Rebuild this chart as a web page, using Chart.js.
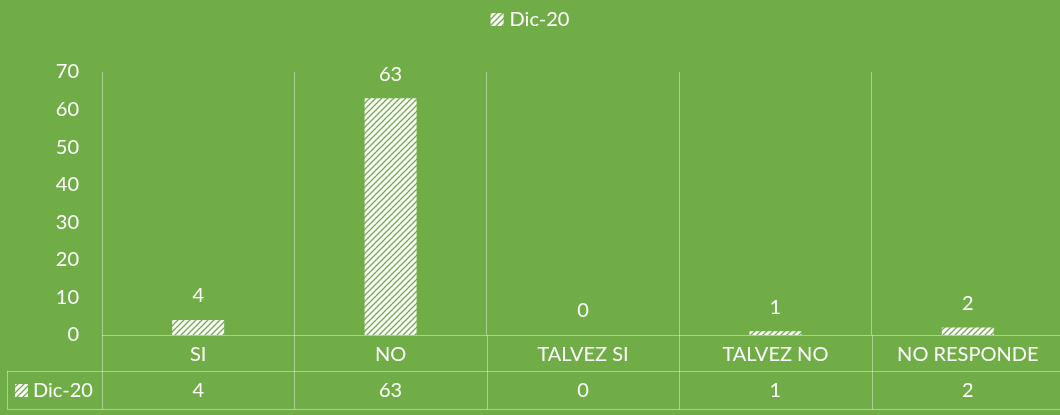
<!DOCTYPE html>
<html>
<head>
<meta charset="utf-8">
<script src="https://cdn.jsdelivr.net/npm/chart.js@4"></script>
<style>
  html, body { margin: 0; padding: 0; background: #70AD47; overflow: hidden; }
  #wrap { width: 1064px; height: 415px; }
</style>
</head>
<body>
<div id="wrap"><canvas id="chart"></canvas></div>
<script>
const categories = ['SI', 'NO', 'TALVEZ SI', 'TALVEZ NO', 'NO RESPONDE'];
const seriesName = 'Dic-20';
const values = [4, 63, 0, 1, 2];
const yTicks = [0, 10, 20, 30, 40, 50, 60, 70];

const green = '#70AD47';
const lineColor = 'rgba(255,255,255,0.42)';
const fontFamily = 'Lato, "Open Sans", sans-serif';

// diagonal white/green hatch like the Excel pattern fill
function makeHatch() {
  const c = document.createElement('canvas');
  c.width = 6; c.height = 6;
  const g = c.getContext('2d');
  g.fillStyle = '#fff';
  g.fillRect(0, 0, 6, 6);
  g.strokeStyle = green;
  g.lineWidth = 1.3;
  g.beginPath();
  g.moveTo(-1, 7); g.lineTo(7, -1);
  g.moveTo(-1, 1); g.lineTo(1, -1);
  g.moveTo(5, 7); g.lineTo(7, 5);
  g.stroke();
  return g.createPattern(c, 'repeat');
}
const hatch = makeHatch();

// value labels, legend and the data table under the axis
const tablePlugin = {
  id: 'dataTable',
  afterDatasetsDraw(chart) {
    const ctx = chart.ctx;
    const meta = chart.getDatasetMeta(0);
    ctx.save();
    ctx.fillStyle = '#fff';
    ctx.font = '20px ' + fontFamily;
    ctx.textAlign = 'center';
    ctx.textBaseline = 'middle';
    meta.data.forEach((bar, i) => {
      ctx.fillText(String(values[i]), bar.x, bar.y - 24);
    });
    ctx.restore();
  },
  afterDraw(chart) {
    const ctx = chart.ctx;
    const x = chart.scales.x;
    const step = x.width / categories.length;
    const rowTop = x.bottom;
    const rowBot = rowTop + 38;
    const left = 7;

    ctx.save();
    ctx.strokeStyle = lineColor;
    ctx.lineWidth = 1;
    ctx.beginPath();
    ctx.moveTo(x.left, x.top + 0.5); ctx.lineTo(x.right, x.top + 0.5);
    ctx.moveTo(left, rowTop + 0.5); ctx.lineTo(x.right, rowTop + 0.5);
    ctx.moveTo(left, rowBot + 0.5); ctx.lineTo(x.right, rowBot + 0.5);
    for (let i = 0; i <= categories.length; i++) {
      const px = Math.round(x.left + i * step) + 0.5;
      ctx.moveTo(px, x.top); ctx.lineTo(px, rowBot);
    }
    ctx.moveTo(left + 0.5, rowTop); ctx.lineTo(left + 0.5, rowBot);
    ctx.stroke();

    const cy = (rowTop + rowBot) / 2 + 1;
    ctx.fillStyle = '#fff';
    ctx.font = '20px ' + fontFamily;
    ctx.textAlign = 'center';
    ctx.textBaseline = 'middle';
    values.forEach((v, i) => {
      ctx.fillText(String(v), x.getPixelForTick(i), cy);
    });

    // legend key inside the table
    ctx.fillStyle = hatch;
    ctx.fillRect(15, cy - 7, 13, 13);
    ctx.fillStyle = '#fff';
    ctx.textAlign = 'left';
    ctx.fillText(seriesName, 33, cy);

    // top legend
    const tw = ctx.measureText(seriesName).width;
    const lx = 530 - (tw + 19) / 2;
    ctx.fillStyle = hatch;
    ctx.fillRect(lx, 13, 13, 13);
    ctx.fillStyle = '#fff';
    ctx.fillText(seriesName, lx + 19, 20);
    ctx.restore();
  }
};

new Chart(document.getElementById('chart'), {
  type: 'bar',
  data: {
    labels: categories,
    datasets: [{
      label: seriesName,
      data: values,
      backgroundColor: hatch,
      borderWidth: 0,
      barPercentage: 0.27,
      categoryPercentage: 1
    }]
  },
  options: {
    responsive: true,
    maintainAspectRatio: false,
    animation: false,
    layout: { padding: { left: 0, right: 0, top: 72, bottom: 44 } },
    plugins: {
      legend: { display: false },
      tooltip: { enabled: false }
    },
    scales: {
      x: {
        offset: true,
        border: { display: false },
        grid: { offset: true, color: lineColor, drawTicks: false },
        ticks: { color: '#fff', padding: 8, font: { family: fontFamily, size: 20 } },
        afterFit(scale) { scale.height = 36; }
      },
      y: {
        min: 0,
        max: 70,
        border: { display: false },
        grid: { display: false, drawTicks: false },
        afterBuildTicks(scale) { scale.ticks = yTicks.map(v => ({ value: v })); },
        ticks: { color: '#fff', padding: 23, font: { family: fontFamily, size: 20 } },
        afterFit(scale) { scale.width = 102; }
      }
    }
  },
  plugins: [tablePlugin]
});
</script>
</body>
</html>
